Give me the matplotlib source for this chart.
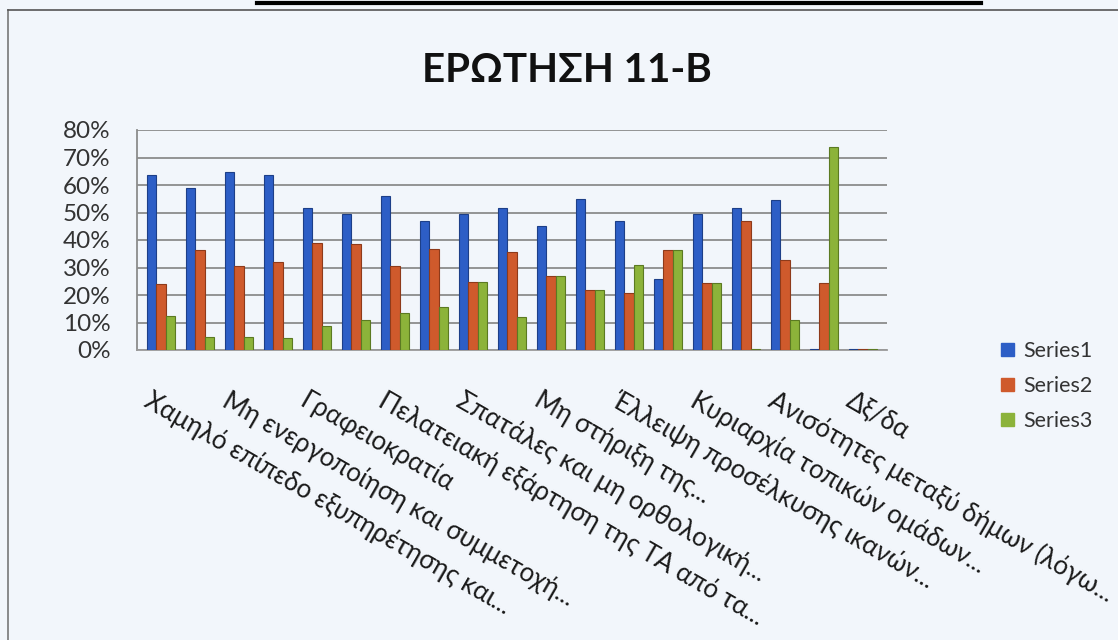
import numpy as np
import matplotlib
matplotlib.use("Agg")
import matplotlib.pyplot as plt
import matplotlib.transforms as mtransforms
from matplotlib.lines import Line2D
from matplotlib.patches import Patch

# ── data ──────────────────────────────────────────────────────
series_names = ["Series1", "Series2", "Series3"]
series1 = [0.636, 0.588, 0.648, 0.636, 0.518, 0.496, 0.560, 0.470, 0.494, 0.515,
           0.450, 0.550, 0.470, 0.260, 0.493, 0.515, 0.545, 0.004, 0.003]
series2 = [0.240, 0.365, 0.305, 0.320, 0.390, 0.387, 0.304, 0.366, 0.248, 0.356,
           0.270, 0.220, 0.207, 0.363, 0.245, 0.468, 0.326, 0.245, 0.003]
series3 = [0.123, 0.049, 0.049, 0.044, 0.089, 0.110, 0.134, 0.158, 0.248, 0.120,
           0.270, 0.220, 0.310, 0.363, 0.245, 0.003, 0.110, 0.737, 0.003]
# only every other category is labelled on the axis
shown_labels = [
    "Χαμηλό επίπεδο εξυπηρέτησης και...",
    "Μη ενεργοποίηση και συμμετοχή...",
    "Γραφειοκρατία",
    "Πελατειακή εξάρτηση της ΤΑ από τα...",
    "Σπατάλες και μη ορθολογική...",
    "Μη στήριξη της...",
    "Έλλειψη προσέλκυσης ικανών...",
    "Κυριαρχία τοπικών ομάδων...",
    "Ανισότητες μεταξύ δήμων (λόγω...",
    "Δξ/δα",
]
yticks = [0, 0.1, 0.2, 0.3, 0.4, 0.5, 0.6, 0.7, 0.8]
title = "ΕΡΩΤΗΣΗ 11-Β"

colors = ["#2d5ec6", "#cf5a2c", "#8cb33a"]
edges = ["#1d3f88", "#8e3a1a", "#5b7a22"]

plt.rcParams['font.family'] = ['Lato', 'DejaVu Sans']

# ── figure ────────────────────────────────────────────────────
W, H = 1118, 640
fig = plt.figure(figsize=(W / 100, H / 100), dpi=100)
fig.patch.set_facecolor('#f2f6fb')

ax = fig.add_axes([137 / W, 1 - 350 / H, (887 - 137) / W, (350 - 130) / H])
ax.set_facecolor('none')

n = len(series1)
x = np.arange(n)
bw = 0.24
for i, vals in enumerate([series1, series2, series3]):
    ax.bar(x + (i - 1) * bw, vals, width=bw, color=colors[i],
           edgecolor=edges[i], linewidth=0.8, zorder=3, label=series_names[i])

ax.set_xlim(-0.62, n - 1 + 0.62)
ax.set_ylim(0, 0.8)
ax.set_yticks(yticks)
ax.set_yticklabels([f"{int(round(v * 100))}%" for v in yticks],
                   fontsize=17.5, color='#333333')
ax.yaxis.grid(True, color='#8c8c8c', linewidth=1.3, zorder=0)
ax.tick_params(axis='y', length=0, pad=19)

ax.set_xticks(x[::2])
ax.set_xticklabels(shown_labels, fontsize=18.5, color='#1a1a1a')
ax.tick_params(axis='x', length=0, pad=27)
shift = mtransforms.ScaledTranslation(-8 / 100, 0, fig.dpi_scale_trans)
for lab in ax.get_xticklabels():
    lab.set_rotation(-30)
    lab.set_ha('left')
    lab.set_va('top')
    lab.set_rotation_mode('anchor')
    lab.set_transform(lab.get_transform() + shift)

for side in ['top', 'right']:
    ax.spines[side].set_visible(False)
ax.spines['left'].set_color('#8c8c8c')
ax.spines['left'].set_linewidth(1.3)
ax.spines['bottom'].set_color('#9a9a9a')
ax.spines['bottom'].set_linewidth(1.3)

# title
fig.text(567 / W, 1 - 70 / H, title, fontsize=29, fontweight='bold',
         ha='center', va='center', color='#111111')

# legend
handles = [Patch(facecolor=c, edgecolor=c) for c in colors]
fig.legend(handles, series_names, loc='center left',
           bbox_to_anchor=(982 / W, 1 - 386 / H), frameon=False,
           fontsize=15.5, handlelength=0.6, handleheight=0.6,
           handletextpad=0.4, labelspacing=0.7, labelcolor='#333333')

# frame of the scanned page
fig.add_artist(Line2D([8 / W, 8 / W], [0, 1 - 10 / H], transform=fig.transFigure,
                      color='#777777', linewidth=1.2))
fig.add_artist(Line2D([8 / W, 1], [1 - 10 / H, 1 - 10 / H], transform=fig.transFigure,
                      color='#555555', linewidth=1.2))
fig.add_artist(Line2D([257 / W, 981 / W], [1 - 3 / H, 1 - 3 / H], transform=fig.transFigure,
                      color='#000000', linewidth=3))

fig.savefig("out.png", dpi=100, facecolor=fig.get_facecolor())
